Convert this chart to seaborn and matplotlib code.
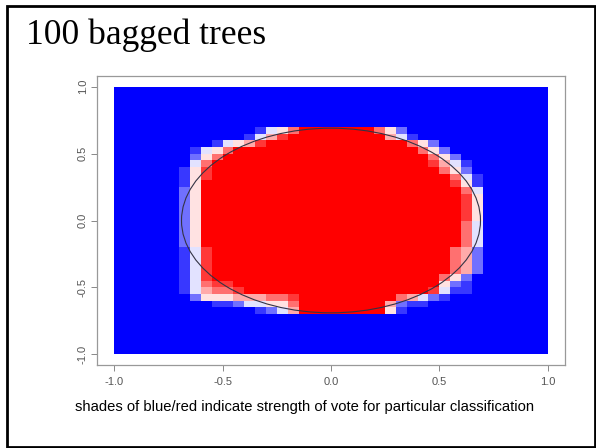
import numpy as np
import pandas as pd
import matplotlib
matplotlib.use("Agg")
import matplotlib.pyplot as plt
from matplotlib.colors import LinearSegmentedColormap
from matplotlib.patches import Ellipse, Rectangle
import seaborn as sns

# ---------------- data ----------------
title = "100 bagged trees"
caption = "shades of blue/red indicate strength of vote for particular classification"
tick_values = [-1.0, -0.5, 0.0, 0.5, 1.0]
tick_labels = ["-1.0", "-0.5", "0.0", "0.5", "1.0"]
x_range = (-1.0, 1.0)
y_range = (-1.0, 1.0)
boundary_radius = 0.69          # true class boundary (circle)
vote_levels = 9                 # digit 0 = all blue votes, 9 = all red votes

# 40 x 40 vote grid, top row = y near 1.0, left column = x near -1.0
vote_rows = [
    "0000000000 0000000000 0000000000 0000000000",
    "0000000000 0000000000 0000000000 0000000000",
    "0000000000 0000000000 0000000000 0000000000",
    "0000000000 0000000000 0000000000 0000000000",
    "0000000000 0000000000 0000000000 0000000000",
    "0000000000 0000000000 0000000000 0000000000",
    "0000000000 0001457999 9999752000 0000000000",
    "0000000000 0014689999 9999964100 0000000000",
    "0000000001 4568999999 9999999752 0000000000",
    "0000000145 7999999999 9999999975 2000000000",
    "0000000257 9999999999 9999999997 5200000000",
    "0000000479 9999999999 9999999998 6410000000",
    "0000001589 9999999999 9999999999 7520000000",
    "0000001589 9999999999 9999999999 9741000000",
    "0000001599 9999999999 9999999999 9851000000",
    "0000002599 9999999999 9999999999 9974000000",
    "0000002599 9999999999 9999999999 9985000000",
    "0000002599 9999999999 9999999999 9985000000",
    "0000002599 9999999999 9999999999 9985000000",
    "0000002599 9999999999 9999999999 9985000000",
    "0000002599 9999999999 9999999999 9974000000",
    "0000002599 9999999999 9999999999 9974000000",
    "0000002599 9999999999 9999999999 9974000000",
    "0000002599 9999999999 9999999999 9974000000",
    "0000001489 9999999999 9999999999 9762000000",
    "0000001489 9999999999 9999999999 9762000000",
    "0000001489 9999999999 9999999999 9762000000",
    "0000001489 9999999999 9999999999 9762000000",
    "0000001489 9999999999 9999999999 7520000000",
    "0000001478 8999999999 9999999999 5210000000",
    "0000001467 7899999999 9999999998 4110000000",
    "0000000255 5666778999 9999997642 1000000000",
    "0000000001 1244557999 9999962110 0000000000",
    "0000000000 0001246999 9999951000 0000000000",
    "0000000000 0000000000 0000000000 0000000000",
    "0000000000 0000000000 0000000000 0000000000",
    "0000000000 0000000000 0000000000 0000000000",
    "0000000000 0000000000 0000000000 0000000000",
    "0000000000 0000000000 0000000000 0000000000",
    "0000000000 0000000000 0000000000 0000000000",
]

# ---------------- build table ----------------
rows = []
for r in vote_rows:
    s = "".join(r.split())
    s = (s + "0" * 40)[:40]
    rows.append([int(c) / vote_levels for c in s])
votes = pd.DataFrame(np.array(rows))
n_rows, n_cols = votes.shape


def to_cx(x):
    return (x - x_range[0]) / (x_range[1] - x_range[0]) * n_cols


def to_cy(y):
    return (y_range[1] - y) / (y_range[1] - y_range[0]) * n_rows


# ---------------- style ----------------
sns.set_theme(style="white")
plt.rcParams["font.family"] = ["Liberation Sans", "DejaVu Sans"]

W, H = 596, 448
fig = plt.figure(figsize=(W / 100, H / 100), dpi=100, facecolor="white")
ax = fig.add_axes([97 / W, 1 - 365 / H, 468 / W, 289 / H])

cmap = LinearSegmentedColormap.from_list("bwr_vote", ["#0000ff", "#ffffff", "#ff0000"])
sns.heatmap(votes, ax=ax, cmap=cmap, vmin=0, vmax=1, cbar=False,
            xticklabels=False, yticklabels=False)

# true boundary
cx0, cy0 = to_cx(0.0), to_cy(0.0)
ax.add_patch(Ellipse((cx0, cy0),
                     width=to_cx(boundary_radius) - to_cx(-boundary_radius),
                     height=to_cy(-boundary_radius) - to_cy(boundary_radius),
                     fill=False, edgecolor="#333344", lw=0.8))

# R-style 4% padding
padx = 0.04 * n_cols
pady = 0.04 * n_rows
ax.set_xlim(-padx, n_cols + padx)
ax.set_ylim(n_rows + pady, -pady)

ax.set_xticks([to_cx(v) for v in tick_values])
ax.set_xticklabels(tick_labels)
ax.set_yticks([to_cy(v) for v in tick_values])
ax.set_yticklabels(tick_labels, rotation=90, va="center")
ax.tick_params(axis="both", which="both", bottom=True, left=True, top=False, right=False,
               direction="out", length=4, width=0.7, color="#888888",
               labelcolor="#555555", labelsize=8)
ax.tick_params(axis="x", pad=4.5)
ax.tick_params(axis="y", pad=2.5)
for s in ax.spines.values():
    s.set_visible(True)
    s.set_color("#999999")
    s.set_linewidth(0.9)

# slide texts
fig.text(26 / W, 1 - 44 / H, title, family=["Liberation Serif", "DejaVu Serif"],
         fontsize=25.5, ha="left", va="baseline", color="black")
fig.text(75 / W, 1 - 411 / H, caption, fontsize=10.6, ha="left", va="baseline", color="black")

# slide frame
fig.add_artist(Rectangle((7 / W, 1 - 447 / H), (595 - 7) / W, (447 - 6) / H,
                         transform=fig.transFigure, fill=False, lw=2.0, edgecolor="black"))

fig.savefig("out.png", dpi=100, facecolor="white")
